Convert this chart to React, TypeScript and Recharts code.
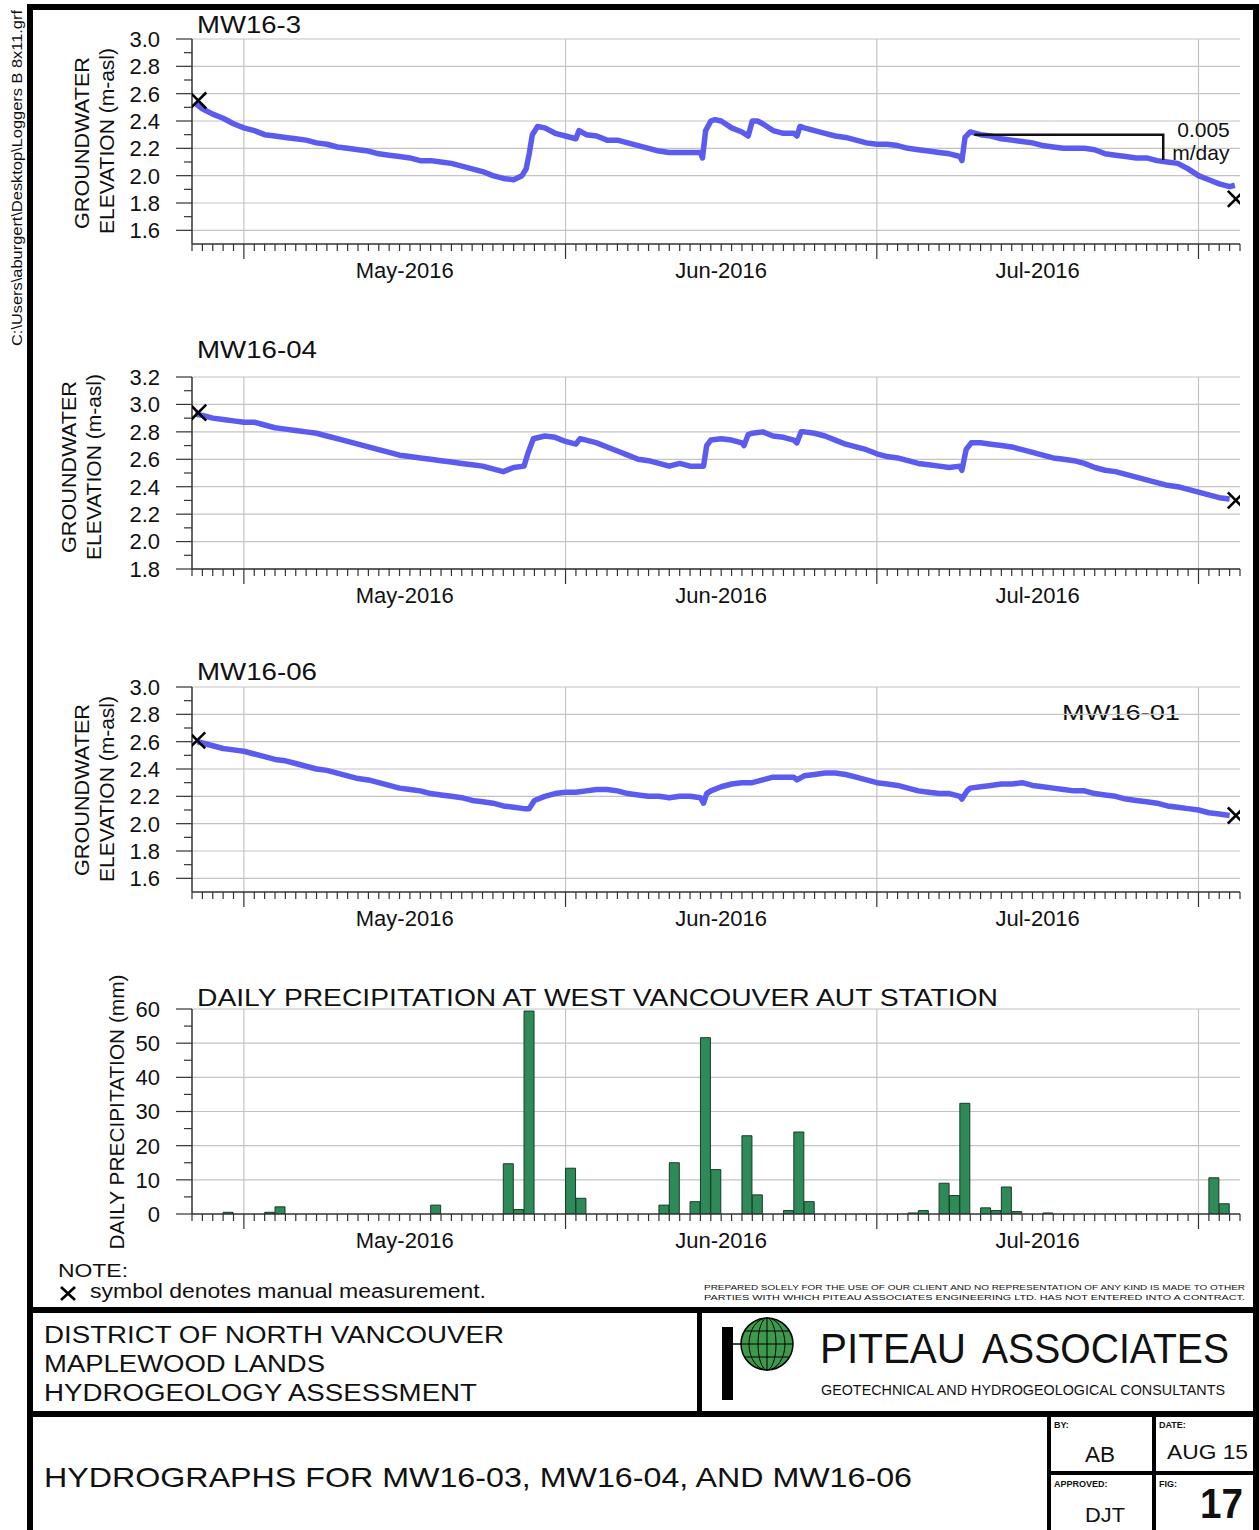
import React from 'react';
import {
  ComposedChart,
  Line,
  Bar,
  Scatter,
  XAxis,
  YAxis,
  CartesianGrid,
  ReferenceDot
} from 'recharts';

const FONT = '"Liberation Sans", Arial, Helvetica, sans-serif';
const LINE_BLUE = '#5b5bef';
const GRID = '#c4c4c4';
const AXIS = '#333333';
const BAR_GREEN = '#2e8b57';

// x axis is in days, day 0 = 26-Apr-2016
const DAY_DOMAIN: [number, number] = [0, 101];
const MONTH_STARTS = [5, 36, 66, 97];
const MONTH_MIDS = [20.5, 51, 81.5];
const MONTH_LABELS = ['May-2016', 'Jun-2016', 'Jul-2016'];
const DAY_TICKS = Array.from({ length: 102 }, (_, i) => i);

const ELEV_TICKS_LOW = [1.6, 1.7, 1.8, 1.9, 2.0, 2.1, 2.2, 2.3, 2.4, 2.5, 2.6, 2.7, 2.8, 2.9, 3.0];
const ELEV_GRID_LOW = [1.6, 1.8, 2.0, 2.2, 2.4, 2.6, 2.8, 3.0];
const ELEV_TICKS_HIGH = [1.8, 1.9, 2.0, 2.1, 2.2, 2.3, 2.4, 2.5, 2.6, 2.7, 2.8, 2.9, 3.0, 3.1, 3.2];
const ELEV_GRID_HIGH = [1.8, 2.0, 2.2, 2.4, 2.6, 2.8, 3.0, 3.2];
const PRECIP_TICKS = [0, 5, 10, 15, 20, 25, 30, 35, 40, 45, 50, 55, 60];
const PRECIP_GRID = [10, 20, 30, 40, 50, 60];

type Pt = [number, number];

// logger readings [day, m-asl]
const MW16_3: Pt[] = [
  [0.3, 2.53], [1, 2.49], [2, 2.45], [3, 2.42], [4, 2.38], [5, 2.35], [6, 2.33], [7, 2.30], [8, 2.29],
  [9, 2.28], [10, 2.27], [11, 2.26], [12, 2.24], [13, 2.23], [14, 2.21], [15, 2.20], [16, 2.19],
  [17, 2.18], [18, 2.16], [19, 2.15], [20, 2.14], [21, 2.13], [22, 2.11], [23, 2.11], [24, 2.10],
  [25, 2.09], [26, 2.07], [27, 2.05], [28, 2.03], [29, 2.00], [30, 1.98], [31, 1.97], [31.8, 2.00],
  [32.2, 2.05], [32.5, 2.16], [32.8, 2.30], [33.3, 2.36], [34, 2.35], [35, 2.31], [36, 2.29],
  [37, 2.27], [37.3, 2.33], [38, 2.30], [39, 2.29], [40, 2.26], [41, 2.26], [42, 2.24], [43, 2.22],
  [44, 2.20], [45, 2.18], [46, 2.17], [47, 2.17], [48, 2.17], [49, 2.17], [49.2, 2.13], [49.5, 2.33],
  [50, 2.40], [50.4, 2.41], [51, 2.40], [52, 2.35], [53, 2.32], [53.6, 2.29], [54, 2.40], [54.5, 2.40],
  [55, 2.38], [56, 2.33], [57, 2.31], [58, 2.31], [58.3, 2.29], [58.6, 2.36], [59, 2.35], [60, 2.33],
  [61, 2.31], [62, 2.29], [63, 2.28], [64, 2.26], [65, 2.24], [66, 2.23], [67, 2.23], [68, 2.22],
  [69, 2.20], [70, 2.19], [71, 2.18], [72, 2.17], [73, 2.16], [74, 2.14], [74.2, 2.11], [74.5, 2.28],
  [75, 2.32], [76, 2.30], [77, 2.29], [78, 2.27], [79, 2.26], [80, 2.25], [81, 2.24], [82, 2.22],
  [83, 2.21], [84, 2.20], [85, 2.20], [86, 2.20], [87, 2.19], [88, 2.16], [89, 2.15], [90, 2.14],
  [91, 2.13], [92, 2.13], [93, 2.11], [94, 2.10], [95, 2.09], [96, 2.05], [97, 2.00], [98, 1.97],
  [99, 1.94], [100, 1.92], [100.5, 1.93]
];

const MW16_04: Pt[] = [
  [0.3, 2.93], [1, 2.92], [2, 2.90], [3, 2.89], [4, 2.88], [5, 2.87], [6, 2.87], [7, 2.85], [8, 2.83],
  [9, 2.82], [10, 2.81], [11, 2.80], [12, 2.79], [13, 2.77], [14, 2.75], [15, 2.73], [16, 2.71],
  [17, 2.69], [18, 2.67], [19, 2.65], [20, 2.63], [21, 2.62], [22, 2.61], [23, 2.60], [24, 2.59],
  [25, 2.58], [26, 2.57], [27, 2.56], [28, 2.55], [29, 2.53], [30, 2.51], [31, 2.54], [32, 2.55],
  [32.4, 2.65], [32.9, 2.75], [34, 2.77], [35, 2.76], [36, 2.73], [37, 2.71], [37.4, 2.75], [38, 2.74],
  [39, 2.72], [40, 2.69], [41, 2.66], [42, 2.63], [43, 2.60], [44, 2.59], [45, 2.57], [46, 2.55],
  [47, 2.57], [48, 2.55], [49, 2.55], [49.3, 2.55], [49.6, 2.70], [50, 2.74], [51, 2.75], [52, 2.74],
  [53, 2.72], [53.2, 2.70], [53.6, 2.78], [54, 2.79], [55, 2.80], [56, 2.77], [57, 2.76], [58, 2.74],
  [58.3, 2.72], [58.7, 2.80], [59, 2.80], [60, 2.79], [61, 2.77], [62, 2.74], [63, 2.71], [64, 2.69],
  [65, 2.67], [66, 2.64], [67, 2.62], [68, 2.61], [69, 2.59], [70, 2.57], [71, 2.56], [72, 2.55],
  [73, 2.54], [74, 2.55], [74.2, 2.52], [74.6, 2.67], [75.1, 2.72], [76, 2.72], [77, 2.71], [78, 2.70],
  [79, 2.69], [80, 2.67], [81, 2.65], [82, 2.63], [83, 2.61], [84, 2.60], [85, 2.59], [86, 2.57],
  [87, 2.54], [88, 2.52], [89, 2.51], [90, 2.49], [91, 2.47], [92, 2.45], [93, 2.43], [94, 2.41],
  [95, 2.40], [96, 2.38], [97, 2.36], [98, 2.34], [99, 2.32], [100, 2.31]
];

const MW16_06: Pt[] = [
  [0.5, 2.60], [1, 2.59], [2, 2.57], [3, 2.55], [4, 2.54], [5, 2.53], [6, 2.51], [7, 2.49], [8, 2.47],
  [9, 2.46], [10, 2.44], [11, 2.42], [12, 2.40], [13, 2.39], [14, 2.37], [15, 2.35], [16, 2.33],
  [17, 2.32], [18, 2.30], [19, 2.28], [20, 2.26], [21, 2.25], [22, 2.24], [23, 2.22], [24, 2.21],
  [25, 2.20], [26, 2.19], [27, 2.17], [28, 2.16], [29, 2.15], [30, 2.13], [31, 2.12], [32, 2.11],
  [32.5, 2.11], [33, 2.17], [34, 2.20], [35, 2.22], [36, 2.23], [37, 2.23], [38, 2.24], [39, 2.25],
  [40, 2.25], [41, 2.24], [42, 2.22], [43, 2.21], [44, 2.20], [45, 2.20], [46, 2.19], [47, 2.20],
  [48, 2.20], [49, 2.19], [49.3, 2.15], [49.6, 2.22], [50, 2.24], [51, 2.27], [52, 2.29], [53, 2.30],
  [54, 2.30], [55, 2.32], [56, 2.34], [57, 2.34], [58, 2.34], [58.3, 2.32], [59, 2.35], [60, 2.36],
  [61, 2.37], [62, 2.37], [63, 2.36], [64, 2.34], [65, 2.32], [66, 2.30], [67, 2.29], [68, 2.28],
  [69, 2.26], [70, 2.24], [71, 2.23], [72, 2.22], [73, 2.22], [74, 2.20], [74.2, 2.18], [74.7, 2.24],
  [75, 2.26], [76, 2.27], [77, 2.28], [78, 2.29], [79, 2.29], [80, 2.30], [81, 2.28], [82, 2.27],
  [83, 2.26], [84, 2.25], [85, 2.24], [86, 2.24], [87, 2.22], [88, 2.21], [89, 2.20], [90, 2.18],
  [91, 2.17], [92, 2.16], [93, 2.15], [94, 2.13], [95, 2.12], [96, 2.11], [97, 2.10], [98, 2.08],
  [99, 2.07], [100, 2.06]
];

// manual measurements (X symbols)
const MANUAL_3: Pt[] = [[0.6, 2.55], [100.6, 1.83]];
const MANUAL_04: Pt[] = [[0.6, 2.94], [100.6, 2.30]];
const MANUAL_06: Pt[] = [[0.5, 2.61], [100.6, 2.06]];

// 0.005 m/day recession bracket on MW16-3
const SLOPE_BRACKET: Pt[] = [[75.4, 2.30], [93.6, 2.30], [93.6, 2.115]];

// daily precipitation, West Vancouver AUT
const PRECIP_DAYS = [3, 7, 8, 23, 30, 31, 32, 36, 37, 45, 46, 48, 49, 50, 53, 54, 57, 58, 59, 69, 70, 72, 73, 74, 76, 77, 78, 79, 82, 98, 99];
const PRECIP_MM = [0.5, 0.5, 2.1, 2.6, 14.7, 1.3, 59.4, 13.4, 4.6, 2.6, 15.0, 3.6, 51.6, 13.0, 22.9, 5.6, 1.0, 24.0, 3.6, 0.3, 1.0, 9.0, 5.4, 32.4, 1.8, 1.0, 7.9, 0.7, 0.3, 10.6, 3.0];

const toRows = (pts: Pt[]) => pts.map(([day, v]) => ({ day, v }));
const precipRows = PRECIP_DAYS.map((d, i) => ({ day: d + 0.5, mm: PRECIP_MM[i] }));

const DayTick = (props: any) => {
  const { x, y, payload } = props;
  const long = MONTH_STARTS.includes(payload.value);
  return <line x1={x} x2={x} y1={y} y2={y + (long ? 15 : 7)} stroke={AXIS} strokeWidth={1.2} />;
};

const MonthTick = (props: any) => {
  const { x, y, payload } = props;
  const label = MONTH_LABELS[MONTH_MIDS.indexOf(payload.value)];
  return (
    <text x={x} y={y + 24} textAnchor="middle" fontSize={22} fill="#111" fontFamily={FONT}>
      {label}
    </text>
  );
};

const makeYTick = (step: number, decimals: number) => (props: any) => {
  const { x, y, payload } = props;
  const v = payload.value;
  const major = Math.abs(v / step - Math.round(v / step)) < 1e-6;
  return (
    <g>
      <line x1={x - (major ? 16 : 8)} x2={x} y1={y} y2={y} stroke={AXIS} strokeWidth={1.2} />
      {major && (
        <text x={x - 32} y={y} dy="0.36em" textAnchor="end" fontSize={22} fill="#111" fontFamily={FONT}>
          {v.toFixed(decimals)}
        </text>
      )}
    </g>
  );
};

const elevTick = makeYTick(0.2, 1);
const precipTick = makeYTick(10, 0);

const XMark = (props: any) => {
  const { cx, cy } = props;
  const s = 8;
  return (
    <g stroke="#000" strokeWidth={2.6}>
      <line x1={cx - s} y1={cy - s} x2={cx + s} y2={cy + s} />
      <line x1={cx - s} y1={cy + s} x2={cx + s} y2={cy - s} />
    </g>
  );
};

const SlopeLabel = (props: any) => {
  const { cx, cy } = props;
  return (
    <g fontFamily={FONT} fontSize={21} fill="#111">
      <text x={cx + 14} y={cy + 2}>0.005</text>
      <text x={cx + 9} y={cy + 25}>m/day</text>
    </g>
  );
};

const bottomAxes = [
  <XAxis
    key="day"
    xAxisId="day"
    type="number"
    dataKey="day"
    domain={DAY_DOMAIN}
    ticks={DAY_TICKS}
    interval={0}
    tick={DayTick}
    tickLine={false}
    tickSize={0}
    tickMargin={0}
    height={10}
    axisLine={{ stroke: AXIS, strokeWidth: 1.5 }}
    allowDataOverflow
  />,
  <XAxis
    key="month"
    xAxisId="month"
    type="number"
    dataKey="day"
    domain={DAY_DOMAIN}
    ticks={MONTH_MIDS}
    interval={0}
    tick={MonthTick}
    tickLine={false}
    axisLine={false}
    tickSize={0}
    tickMargin={0}
    height={36}
    allowDataOverflow
  />
];

interface HydroProps {
  top: number;
  height: number;
  domain: [number, number];
  ticks: number[];
  grid: number[];
  series: Pt[];
  manual: Pt[];
  slope?: boolean;
}

const Hydrograph: React.FC<HydroProps> = ({ top, height, domain, ticks, grid, series, manual, slope }) => (
  <div style={{ position: 'absolute', left: 0, top }}>
    <ComposedChart width={1259} height={height} data={toRows(series)} margin={{ top: 39, right: 19, bottom: 0, left: 0 }}>
      <CartesianGrid xAxisId="day" stroke={GRID} strokeWidth={1.2} horizontalValues={grid} verticalValues={MONTH_STARTS} />
      {bottomAxes}
      <YAxis
        type="number"
        dataKey="v"
        domain={domain}
        ticks={ticks}
        interval={0}
        tick={elevTick}
        tickLine={false}
        tickSize={0}
        tickMargin={0}
        width={192}
        axisLine={{ stroke: AXIS, strokeWidth: 1.5 }}
        allowDataOverflow
      />
      <Line
        xAxisId="day"
        dataKey="v"
        type="linear"
        stroke={LINE_BLUE}
        strokeWidth={5.5}
        strokeLinejoin="round"
        dot={false}
        isAnimationActive={false}
      />
      {slope && (
        <Line
          xAxisId="day"
          data={toRows(SLOPE_BRACKET)}
          dataKey="v"
          type="linear"
          stroke="#111"
          strokeWidth={2.5}
          dot={false}
          isAnimationActive={false}
        />
      )}
      {slope && (
        <ReferenceDot xAxisId="day" x={SLOPE_BRACKET[1][0]} y={SLOPE_BRACKET[1][1]} r={0} shape={SlopeLabel} />
      )}
      <Scatter xAxisId="day" data={toRows(manual)} dataKey="v" shape={XMark} isAnimationActive={false} />
    </ComposedChart>
  </div>
);

const PrecipChart: React.FC<{ top: number }> = ({ top }) => (
  <div style={{ position: 'absolute', left: 0, top }}>
    <ComposedChart width={1259} height={290} data={precipRows} margin={{ top: 39, right: 19, bottom: 0, left: 0 }}>
      <CartesianGrid xAxisId="day" stroke={GRID} strokeWidth={1.2} horizontalValues={PRECIP_GRID} verticalValues={MONTH_STARTS} />
      {bottomAxes}
      <YAxis
        type="number"
        dataKey="mm"
        domain={[0, 60]}
        ticks={PRECIP_TICKS}
        interval={0}
        tick={precipTick}
        tickLine={false}
        tickSize={0}
        tickMargin={0}
        width={192}
        axisLine={{ stroke: AXIS, strokeWidth: 1.5 }}
        allowDataOverflow
      />
      <Bar xAxisId="day" dataKey="mm" barSize={10} fill={BAR_GREEN} stroke="#1c3a29" strokeWidth={1} isAnimationActive={false} />
    </ComposedChart>
  </div>
);

const Txt: React.FC<{ x: number; y: number; size: number; w?: number; bold?: boolean; anchor?: string; children: React.ReactNode }> = ({
  x, y, size, w, bold, anchor, children
}) => (
  <text
    x={x}
    y={y}
    fontSize={size}
    fontWeight={bold ? 700 : 400}
    textAnchor={anchor || 'start'}
    textLength={w}
    lengthAdjust={w ? 'spacingAndGlyphs' : undefined}
    fill="#111"
  >
    {children}
  </text>
);

const VTxt: React.FC<{ x: number; y: number; size: number; w: number; anchor?: string; children: React.ReactNode }> = ({
  x, y, size, w, anchor, children
}) => (
  <text
    transform={`translate(${x},${y}) rotate(-90)`}
    fontSize={size}
    textAnchor={anchor || 'middle'}
    textLength={w}
    lengthAdjust="spacingAndGlyphs"
    fill="#111"
  >
    {children}
  </text>
);

const Sheet: React.FC = () => (
  <svg width={1259} height={1530} style={{ position: 'absolute', left: 0, top: 0 }} fontFamily={FONT}>
    {/* frame */}
    <rect x={27} y={4} width={6} height={1526} fill="#000" />
    <rect x={27} y={4} width={1232} height={6} fill="#000" />
    <rect x={1253} y={4} width={6} height={1526} fill="#000" />
    <rect x={27} y={1307} width={1232} height={6} fill="#000" />
    <rect x={697} y={1307} width={5} height={108} fill="#000" />
    <rect x={27} y={1411} width={1232} height={6} fill="#000" />
    <rect x={1047} y={1411} width={4} height={119} fill="#000" />
    <rect x={1152} y={1411} width={4} height={119} fill="#000" />
    <rect x={1047} y={1471} width={212} height={4} fill="#000" />

    <VTxt x={22} y={346} size={15} w={336} anchor="start">C:\Users\aburgert\Desktop\Loggers B 8x11.grf</VTxt>

    {/* chart titles */}
    <Txt x={197} y={33} size={23} w={104}>MW16-3</Txt>
    <Txt x={197} y={358} size={23} w={120}>MW16-04</Txt>
    <Txt x={197} y={680} size={23} w={120}>MW16-06</Txt>
    <Txt x={1062} y={720} size={22} w={118}>MW16-01</Txt>
    <Txt x={197} y={1006} size={23} w={801}>DAILY PRECIPITATION AT WEST VANCOUVER AUT STATION</Txt>

    {/* axis titles */}
    <VTxt x={89} y={143} size={21} w={172}>GROUNDWATER</VTxt>
    <VTxt x={114} y={141} size={21} w={186}>ELEVATION (m-asl)</VTxt>
    <VTxt x={76} y={467} size={21} w={172}>GROUNDWATER</VTxt>
    <VTxt x={101} y={467} size={21} w={186}>ELEVATION (m-asl)</VTxt>
    <VTxt x={89} y={790} size={21} w={172}>GROUNDWATER</VTxt>
    <VTxt x={114} y={789} size={21} w={186}>ELEVATION (m-asl)</VTxt>
    <VTxt x={124} y={1112} size={21} w={275}>DAILY PRECIPITATION (mm)</VTxt>

    {/* note */}
    <Txt x={58} y={1277} size={19} w={70}>NOTE:</Txt>
    <g stroke="#000" strokeWidth={2.6}>
      <line x1={61} y1={1287} x2={75} y2={1300} />
      <line x1={61} y1={1300} x2={75} y2={1287} />
    </g>
    <Txt x={90} y={1298} size={20} w={396}>symbol denotes manual measurement.</Txt>
    <Txt x={704} y={1290} size={7.5} w={541}>PREPARED SOLELY FOR THE USE OF OUR CLIENT AND NO REPRESENTATION OF ANY KIND IS MADE TO OTHER</Txt>
    <Txt x={704} y={1300} size={7.5} w={541}>PARTIES WITH WHICH PITEAU ASSOCIATES ENGINEERING LTD. HAS NOT ENTERED INTO A CONTRACT.</Txt>

    {/* project block */}
    <Txt x={44} y={1343} size={23} w={460}>DISTRICT OF NORTH VANCOUVER</Txt>
    <Txt x={44} y={1372} size={23} w={281}>MAPLEWOOD LANDS</Txt>
    <Txt x={44} y={1401} size={23} w={433}>HYDROGEOLOGY ASSESSMENT</Txt>

    {/* logo */}
    <rect x={722} y={1327} width={11} height={73} fill="#000" />
    <line x1={733} y1={1344} x2={742} y2={1344} stroke="#000" strokeWidth={1.5} />
    <circle cx={767} cy={1344} r={26} fill="#3d9a4d" stroke="#000" strokeWidth={1.5} />
    <g stroke="#000" strokeWidth={1} fill="none">
      <ellipse cx={767} cy={1344} rx={9} ry={26} />
      <ellipse cx={767} cy={1344} rx={18} ry={26} />
      <line x1={767} y1={1318} x2={767} y2={1370} />
      <line x1={741} y1={1344} x2={793} y2={1344} />
      <line x1={745} y1={1331} x2={789} y2={1331} />
      <line x1={745} y1={1357} x2={789} y2={1357} />
    </g>
    <Txt x={820} y={1363} size={43} w={146}>PITEAU</Txt>
    <Txt x={982} y={1363} size={43} w={247}>ASSOCIATES</Txt>
    <Txt x={821} y={1395} size={15} w={404}>GEOTECHNICAL AND HYDROGEOLOGICAL CONSULTANTS</Txt>

    {/* drawing title */}
    <Txt x={44} y={1487} size={28} w={868}>HYDROGRAPHS FOR MW16-03, MW16-04, AND MW16-06</Txt>
    <Txt x={1054} y={1428} size={9} bold>BY:</Txt>
    <Txt x={1159} y={1428} size={9} bold>DATE:</Txt>
    <Txt x={1054} y={1487} size={9} bold>APPROVED:</Txt>
    <Txt x={1159} y={1487} size={9} bold>FIG:</Txt>
    <Txt x={1085} y={1462} size={22} w={30}>AB</Txt>
    <Txt x={1167} y={1459} size={21} w={81}>AUG 15</Txt>
    <Txt x={1085} y={1522} size={21} w={40}>DJT</Txt>
    <Txt x={1200} y={1518} size={42} w={43} bold>17</Txt>
  </svg>
);

export default function App() {
  return (
    <div
      style={{
        position: 'absolute',
        left: 0,
        top: 0,
        width: 1259,
        height: 1530,
        background: '#fff',
        fontFamily: FONT,
        overflow: 'hidden'
      }}
    >
      <Sheet />
      <Hydrograph top={0} height={290} domain={[1.5, 3.0]} ticks={ELEV_TICKS_LOW} grid={ELEV_GRID_LOW} series={MW16_3} manual={MANUAL_3} slope />
      <Hydrograph top={338} height={277} domain={[1.8, 3.2]} ticks={ELEV_TICKS_HIGH} grid={ELEV_GRID_HIGH} series={MW16_04} manual={MANUAL_04} />
      <Hydrograph top={648} height={290} domain={[1.5, 3.0]} ticks={ELEV_TICKS_LOW} grid={ELEV_GRID_LOW} series={MW16_06} manual={MANUAL_06} />
      <PrecipChart top={970} />
    </div>
  );
}
